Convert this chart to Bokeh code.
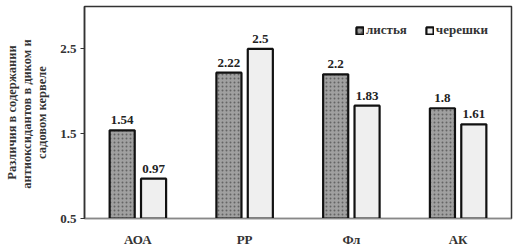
from bokeh.plotting import figure
from bokeh.models import ColumnDataSource, LabelSet, Legend, LegendItem, FixedTicker, Range1d
from bokeh.transform import dodge
from bokeh.embed import file_html
from bokeh.resources import INLINE

categories = ["АОА", "РР", "Фл", "АК"]
leaves = [1.54, 2.22, 2.2, 1.8]
petioles = [0.97, 2.5, 1.83, 1.61]
series_names = ["листья", "черешки"]
y_ticks = [0.5, 1.5, 2.5]
y_title = "Различия в содержании\nантиоксидантов  в диком и\nсадовом кервеле"

FONT = "Liberation Serif"

src = ColumnDataSource(dict(
    cat=categories,
    leaves=leaves,
    petioles=petioles,
    leaves_lbl=[f"{v:g}" for v in leaves],
    petioles_lbl=[f"{v:g}" for v in petioles],
))

p = figure(x_range=categories, y_range=Range1d(0.5, 3.0),
           width=524, height=247, frame_width=427, frame_height=212,
           min_border_left=84, min_border_right=13, min_border_top=6, min_border_bottom=29,
           output_backend="svg", toolbar_location=None)

p.background_fill_color = "white"
p.border_fill_color = "white"
p.outline_line_color = "#333333"
p.outline_line_width = 1.5
p.xgrid.grid_line_color = None
p.ygrid.grid_line_color = None

off = 0.147
w = 0.235
r1 = p.vbar(x=dodge("cat", -off, range=p.x_range), top="leaves", bottom=0.5, width=w, source=src,
            fill_color="#a0a0a0", line_color="#111111", line_width=2.2,
            hatch_pattern="dot", hatch_color="#555555", hatch_scale=4, hatch_weight=1.3, hatch_alpha=0.8)
r2 = p.vbar(x=dodge("cat", off, range=p.x_range), top="petioles", bottom=0.5, width=w, source=src,
            fill_color="#efefef", line_color="#111111", line_width=2.2)

for col, lbl, dx in (("leaves", "leaves_lbl", -off), ("petioles", "petioles_lbl", off)):
    ls = LabelSet(x=dodge("cat", dx, range=p.x_range), y=col, text=lbl, source=src,
                  y_offset=6, text_align="center", text_baseline="bottom",
                  text_font=FONT, text_font_style="bold", text_font_size="13px", text_color="#222222")
    p.add_layout(ls)

p.yaxis.ticker = FixedTicker(ticks=y_ticks)
p.yaxis.major_label_overrides = {0.5: "0.5", 1.5: "1.5", 2.5: "2.5"}
p.yaxis.minor_tick_line_color = None
p.yaxis.major_tick_in = 0
p.yaxis.major_tick_out = 4
p.yaxis.major_tick_line_color = "#333333"
p.yaxis.axis_line_color = "#333333"
p.yaxis.axis_line_width = 1.5
p.yaxis.major_label_text_font = FONT
p.yaxis.major_label_text_font_style = "bold"
p.yaxis.major_label_text_font_size = "13px"
p.yaxis.major_label_text_color = "#333333"
p.yaxis.major_label_standoff = 4
p.yaxis.axis_label = y_title
p.yaxis.axis_label_text_font = FONT
p.yaxis.axis_label_text_font_style = "bold"
p.yaxis.axis_label_text_font_size = "12.5px"
p.yaxis.axis_label_text_line_height = 1.08
p.yaxis.axis_label_text_color = "#333333"
p.yaxis.axis_label_standoff = 8
p.yaxis.axis_label_text_align = "center"

p.xaxis.major_tick_line_color = None
p.xaxis.minor_tick_line_color = None
p.xaxis.axis_line_color = "#888888"
p.xaxis.axis_line_width = 1.2
p.xaxis.major_label_text_font = FONT
p.xaxis.major_label_text_font_style = "bold"
p.xaxis.major_label_text_font_size = "13px"
p.xaxis.major_label_text_color = "#333333"
p.xaxis.major_label_standoff = 7

legend = Legend(items=[LegendItem(label=series_names[0], renderers=[r1]),
                       LegendItem(label=series_names[1], renderers=[r2])],
                location=(271, 180), orientation="horizontal",
                glyph_width=9, glyph_height=9, label_standoff=2, spacing=18, padding=3,
                label_text_font=FONT, label_text_font_style="bold", label_text_font_size="13px",
                label_text_color="#333333", border_line_color=None, background_fill_alpha=0)
p.add_layout(legend)

open("out.html", "w").write(file_html(p, INLINE))
